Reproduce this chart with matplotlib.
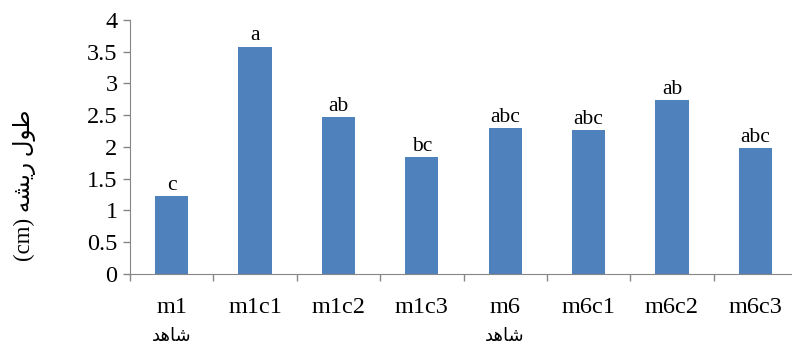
import matplotlib.pyplot as plt
import numpy as np

# data
categories = ['m1', 'm1c1', 'm1c2', 'm1c3', 'm6', 'm6c1', 'm6c2', 'm6c3']
root_length = [1.22, 3.58, 2.47, 1.84, 2.29, 2.26, 2.74, 1.98]
letters = ['c', 'a', 'ab', 'bc', 'abc', 'abc', 'ab', 'abc']
# Persian text written in presentation forms (visual order) so it joins correctly
control_label = '\uFEAA\uFEEB\uFE8E\uFEB7'           # شاهد
control_idx = [0, 4]
ylabel = '(cm) \uFEEA\uFEB8\uFBFE\uFEAD \uFEDD\uFEEE\uFEC3'  # طول ریشه (cm)

serif = ['Liberation Serif', 'DejaVu Serif']
mixed = ['Liberation Serif', 'DejaVu Sans']
grey = '#868686'

fig = plt.figure(figsize=(7.92, 3.52), dpi=100)
ax = fig.add_axes([130 / 792, 78.3 / 352, 667 / 792, 253.7 / 352])

x = np.arange(len(categories))
ax.bar(x, root_length, width=0.4, color='#4F81BD', zorder=2)

for xi, v, lab in zip(x, root_length, letters):
    ax.annotate(lab, (xi, v), xytext=(0, 1), textcoords='offset points',
                ha='center', va='bottom', fontsize=15.5, family=serif)

ax.set_xlim(-0.5, len(categories) - 0.5)
ax.set_ylim(0, 4)
ax.set_yticks(np.arange(0, 4.01, 0.5))
ax.set_yticklabels(['0', '0.5', '1', '1.5', '2', '2.5', '3', '3.5', '4'],
                   family=serif, fontsize=17.5)

ax.set_xticks(x)
ax.set_xticklabels(categories, family=serif, fontsize=17.5)
ax.set_xticks(np.arange(-0.5, len(categories), 1), minor=True)
ax.tick_params(axis='x', which='major', length=0, pad=17)
ax.tick_params(axis='x', which='minor', length=5, color=grey, width=1)
ax.tick_params(axis='y', length=5, color=grey, width=1, pad=4)

for i in control_idx:
    ax.text(x[i], -0.86, control_label, ha='center', va='top',
            fontsize=13, family=mixed)

for s in ['top', 'right']:
    ax.spines[s].set_visible(False)
for s in ['left', 'bottom']:
    ax.spines[s].set_color(grey)

fig.text(25 / 792, 1 - 185 / 352, ylabel, rotation=90, ha='center', va='center',
         fontsize=16.5, family=mixed)

fig.savefig('out.png', dpi=100)
